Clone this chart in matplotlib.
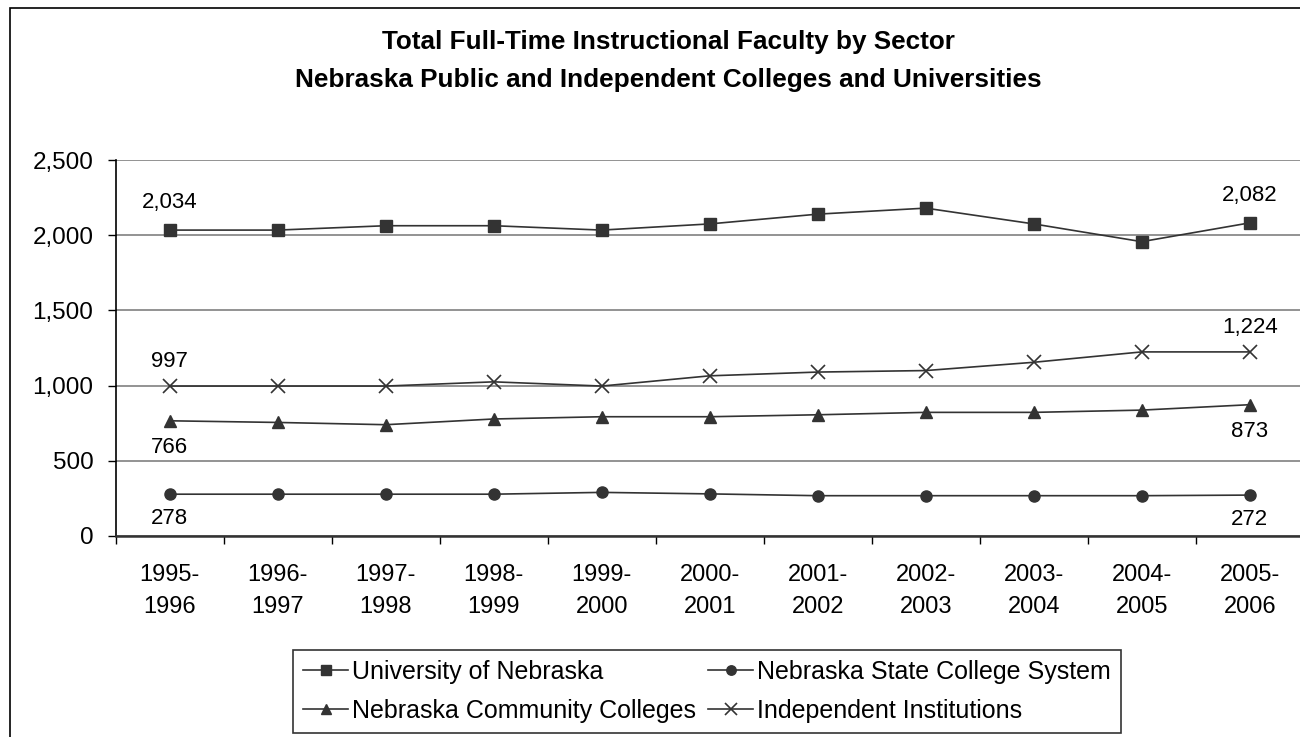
import matplotlib as mpl
mpl.use('Agg')
import matplotlib.pyplot as plt
from matplotlib.patches import Rectangle
from matplotlib.ticker import FixedLocator, FuncFormatter

plt.rcParams['font.family'] = ['Liberation Sans', 'DejaVu Sans']

years = ['1995-\n1996', '1996-\n1997', '1997-\n1998', '1998-\n1999', '1999-\n2000',
         '2000-\n2001', '2001-\n2002', '2002-\n2003', '2003-\n2004', '2004-\n2005',
         '2005-\n2006']
univ = [2034, 2034, 2063, 2063, 2034, 2075, 2140, 2180, 2075, 1957, 2082]
state = [278, 278, 278, 278, 290, 280, 268, 268, 268, 268, 272]
community = [766, 755, 740, 778, 793, 793, 806, 822, 822, 837, 873]
independent = [997, 997, 997, 1025, 997, 1065, 1090, 1100, 1155, 1224, 1224]

names = ['University of Nebraska', 'Nebraska State College System',
         'Nebraska Community Colleges', 'Independent Institutions']

W, H = 1300, 737
fig = plt.figure(figsize=(13, 7.37), dpi=100)
ax = fig.add_axes([115.7 / W, 1 - 536 / H, 1 - 115.7 / W, (536 - 160) / H])

x = list(range(len(years)))
lc = '#333333'
kw = dict(color=lc, linewidth=1.2, markersize=8)
l1, = ax.plot(x, univ, marker='s', label=names[0], **kw)
l2, = ax.plot(x, state, marker='o', label=names[1], **kw)
l3, = ax.plot(x, community, marker='^', label=names[2], **kw)
l4, = ax.plot(x, independent, marker='x', markeredgewidth=1.2, label=names[3],
              color=lc, linewidth=1.2, markersize=10)

# end labels
fs_lab = 16
last = len(years) - 1
ax.annotate('{:,}'.format(univ[0]), (0, univ[0]), xytext=(0, 12), textcoords='offset points',
            ha='center', va='bottom', fontsize=fs_lab)
ax.annotate('{:,}'.format(univ[last]), (last, univ[last]), xytext=(0, 12), textcoords='offset points',
            ha='center', va='bottom', fontsize=fs_lab)
ax.annotate('{:,}'.format(independent[0]), (0, independent[0]), xytext=(0, 10), textcoords='offset points',
            ha='center', va='bottom', fontsize=fs_lab)
ax.annotate('{:,}'.format(independent[last]), (last, independent[last]), xytext=(0, 10), textcoords='offset points',
            ha='center', va='bottom', fontsize=fs_lab)
ax.annotate('{:,}'.format(community[0]), (0, community[0]), xytext=(0, -12), textcoords='offset points',
            ha='center', va='top', fontsize=fs_lab)
ax.annotate('{:,}'.format(community[last]), (last, community[last]), xytext=(0, -12), textcoords='offset points',
            ha='center', va='top', fontsize=fs_lab)
ax.annotate('{:,}'.format(state[0]), (0, state[0]), xytext=(0, -10), textcoords='offset points',
            ha='center', va='top', fontsize=fs_lab)
ax.annotate('{:,}'.format(state[last]), (last, state[last]), xytext=(0, -10), textcoords='offset points',
            ha='center', va='top', fontsize=fs_lab)

ax.set_ylim(0, 2500)
ax.set_yticks([0, 500, 1000, 1500, 2000, 2500])
ax.yaxis.set_major_formatter(FuncFormatter(lambda v, p: '{:,}'.format(int(v))))
ax.set_xlim(-0.5, -0.5 + (W - 115.7) / 108.0)
ax.xaxis.set_major_locator(FixedLocator([i - 0.5 for i in range(len(years) + 1)]))
ax.xaxis.set_minor_locator(FixedLocator(x))
ax.set_xticklabels([])
ax.set_xticklabels(years, minor=True, linespacing=1.6)
ax.tick_params(axis='x', which='major', length=6, width=1, color='black', direction='out')
ax.tick_params(axis='x', which='minor', length=0, pad=20, labelsize=17)
ax.tick_params(axis='y', length=6, width=1, direction='out', labelsize=17.5, pad=10)
ax.grid(axis='y', color='#808080', linewidth=1.2)
ax.set_axisbelow(True)
for s in ['top', 'right']:
    ax.spines[s].set_visible(False)
ax.spines['left'].set_linewidth(1.2)
ax.spines['bottom'].set_linewidth(1.8)
ax.spines['bottom'].set_color('#333333')

fig.text(668 / W, 1 - 61 / H,
         'Total Full-Time Instructional Faculty by Sector\nNebraska Public and Independent Colleges and Universities',
         ha='center', va='center', fontsize=18.8, fontweight='bold', linespacing=1.7)

# legend fills column by column, so order handles to read row by row
leg = fig.legend(handles=[l1, l3, l2, l4], loc='center', ncol=2,
                 bbox_to_anchor=(707 / W, 1 - 691.5 / H), fontsize=18,
                 frameon=True, fancybox=False, edgecolor='#333333', framealpha=1,
                 handlelength=1.8, handletextpad=0.15, columnspacing=0.5,
                 borderpad=0.4, labelspacing=0.6, borderaxespad=0, markerscale=0.85)
leg.get_frame().set_linewidth(1.2)

fig.patches.append(Rectangle((10 / W, -0.1), 1.2, 1.1 - 8 / H, transform=fig.transFigure,
                             fill=False, edgecolor='black', linewidth=1.2))

plt.savefig('out.png', dpi=100)
